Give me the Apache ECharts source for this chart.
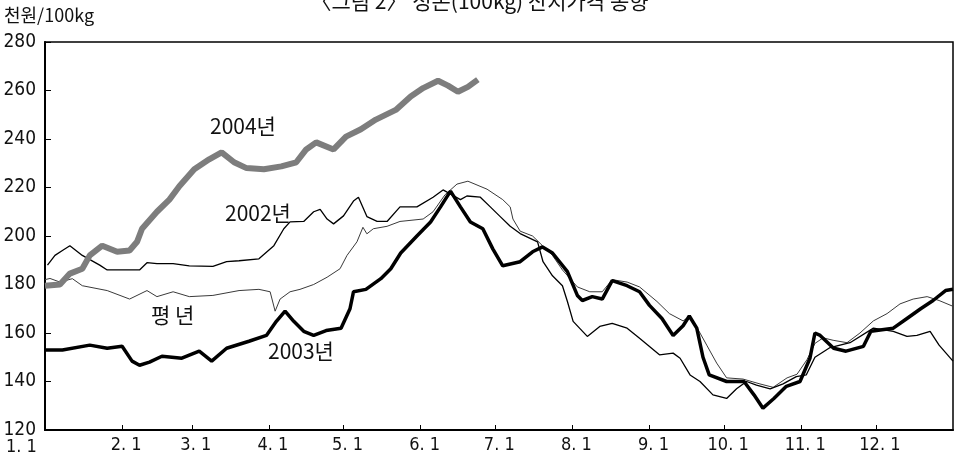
<!DOCTYPE html>
<html><head><meta charset="utf-8">
<script src="https://cdn.jsdelivr.net/npm/echarts@6/dist/echarts.min.js"></script>
<style>html,body{margin:0;padding:0;background:#fff}#c{width:959px;height:454px}</style>
</head><body><div id="c"></div>
<script>
// x: day of year (0 = Jan 1), y: 천원/100kg
const monthStarts = [0,31,59,90,120,151,181,212,243,273,304,334];
const monthLabels = ['1. 1','2. 1','3. 1','4. 1','5. 1','6. 1','7. 1','8. 1','9. 1','10. 1','11. 1','12. 1'];
const yTicks = [120,140,160,180,200,220,240,260,280];

const d2004 = [0,6,10,15,18,23,29,34,37,39,45,50,54,60,66,71,76,81,88,95,101,105,109,116,121,127,133,141,147,152,158,162,166,170,174];
const v2004 = [179.5,180,184.5,186.5,192,196,193.5,194,197.6,203,210,215,220.5,227.5,231.6,234.5,230.4,228,227.5,228.7,230.4,235.7,238.6,235.7,241,244,248,252,257.5,261,264,262,259.5,261.5,264.5];

const d2003 = [0,7,18,25,31,35,38,42,47,55,62,67,73,82,89,93,96.5,100,104,108,113,119,122.6,124,129,135,139,143,149.5,155,159,163,167,171,176,180,184,191,196,200,204,210,214,216,220,224,228,234,239,243,248,252.5,256.5,259,262,264.5,267,274,281,285,288.6,293,298,303.5,307.5,309.5,311.6,317,322,329,332,341,346.5,352,357,362,365];
const v2003 = [153,153,155,153.7,154.5,148.4,146.7,148,150.4,149.6,152.5,148.4,153.7,156.6,159,164.8,169,164.8,160.7,159,161,162,170,177,178,182.4,186.5,193,200,205.8,212,218.5,212,205.8,203,194.7,187.7,189.4,193.5,195.5,193,185.3,175.5,173.4,175,174,181.6,179.5,177,171.4,166,159,163,167,162,150,142.7,140,140,134.5,129,133,138,140,149.6,160,159,153.7,152.5,154.5,160.7,162,166,170,173.4,177.5,178];

const d2002 = [1,4,7,10,15,22,25,31,38,41,45,51.5,58,67.5,73,78,86,92,96,98.5,104,108,110.6,113.4,116,120,124,126,129.4,133.5,137.5,142.7,149.5,156,160,167,169.6,175,179,183,187,191,198,200.2,204,208,210,212.3,218,223,228,234,239,247,252.5,255.3,259.3,263.3,268.5,274,278,282,286,291.5,296.7,302,306,309.5,315.6,323.6,333,341,346.5,350.5,355.8,359.4,365];
const v2002 = [188,192,194,196,192,188,186,186,186,189,188.6,188.6,187.7,187.5,189.4,189.8,190.6,196,203,205.8,206,210,211,207,205,208.3,214.4,216,208,206,206,212,212,216,219,215,216.5,216,212,208,204,201,197.6,189.4,183.6,179.5,173,164.8,158.6,162.7,164,162,157.8,151,151.7,149.6,142.7,140,134.5,133,137,140,138.5,137,139,142,142.7,150,154,156,162,160.7,158.6,159,160.7,155,148.4];

const dAvg = [0,2,6,11,15,25,34,41,45,51.5,58,67.5,78,86,90.5,92.5,94.5,98.5,102.5,108,113.4,118.6,121.4,125.4,127.8,129.4,132,137.5,142.7,152,156,160.8,165.6,170,177.7,184,187,188.1,191,196,200,204,208,214,219,224,228,234,239,246,251,256.5,259.3,263.3,266,270,274,280.6,287.4,292.7,298.3,302.3,306.3,309.5,312.8,316.8,322.4,327.6,333,338.5,343.7,349,354.6,359.4,365];
const vAvg = [182,182.5,181,182.4,179.5,177.5,174,177.5,175,177,175,175.5,177.5,178,177,169,174,177,178,180,183,186.5,192,197.6,203.6,200.9,203,204,206,207,210,217,221.4,222.6,219.3,215,212,207,202,200,196,192,186,179,177,177,182,181,179,173,168,165,167,160,155,147.6,141.5,141,139,137.6,141.5,143,149,155.7,158,157,156,160,165,168,172,174,175,173.4,171];

const pairs = (d, v) => d.map((x, i) => [x, v[i]]);
const chart = echarts.init(document.getElementById('c'));
const FONT = '"Liberation Sans Narrow","DejaVu Sans Condensed","Liberation Sans",sans-serif';
const lab = (t, l, tp) => ({type:'text', left:l, top:tp, style:{text:t, font:'21px "Noto Sans CJK KR", sans-serif', fill:'#111'}});
chart.setOption({
  animation:false,
  backgroundColor:'#fff',
  grid:{left:45, right:6, top:42, bottom:22, show:true, borderColor:'#000', borderWidth:1.5},
  xAxis:{type:'value', min:0, max:365,
    axisLine:{show:true, lineStyle:{color:'#000', width:2}},
    splitLine:{show:false},
    axisTick:{show:true, inside:true, length:5, customValues:monthStarts, lineStyle:{color:'#000'}},
    axisLabel:{customValues:monthStarts.slice(1), margin:6, color:'#111', fontFamily:FONT, fontSize:18,
      formatter:(v)=>'{n|'+monthLabels[monthStarts.indexOf(v)]+'}',
      rich:{ n:{fontFamily:FONT, fontSize:18, color:'#111', lineHeight:18, padding:[0,0,0,8]} }}
  },
  yAxis:{type:'value', min:120, max:280, interval:20,
    axisLine:{show:true, lineStyle:{color:'#000', width:2}},
    splitLine:{show:false},
    axisTick:{show:true, inside:true, length:6, lineStyle:{color:'#000'}},
    axisLabel:{margin:9, color:'#111', fontFamily:FONT, fontSize:19, customValues:yTicks}
  },
  graphic:[
    {type:'text', left:'center', top:-9, style:{text:'〈그림 2〉 성돈(100kg) 산지가격 동향', font:'21px "Noto Sans CJK KR", sans-serif', fill:'#111'}},
    {type:'text', left:4, top:6, style:{text:'천원/100kg', font:'18px "Noto Sans CJK KR", sans-serif', fill:'#111'}},
    {type:'text', x:6, y:438, style:{text:monthLabels[0], font:'18px ' + FONT, fill:'#111', verticalAlign:'top', align:'left'}},
    lab('2004년', 210, 116),
    lab('2002년', 225, 203),
    lab('평 년', 151, 305),
    lab('2003년', 268, 341)
  ],
  series:[
    {name:'평년', type:'line', data:pairs(dAvg,vAvg), symbol:'none', lineStyle:{color:'#3a3a3a', width:1}, z:2},
    {name:'2002년', type:'line', data:pairs(d2002,v2002), symbol:'none', lineStyle:{color:'#000', width:1.3}, z:3},
    {name:'2003년', type:'line', data:pairs(d2003,v2003), symbol:'none', lineStyle:{color:'#000', width:3.5}, z:4},
    {name:'2004년', type:'line', data:pairs(d2004,v2004), symbol:'none', lineStyle:{color:'#7d7d7d', width:6}, z:5}
  ]
});
</script></body></html>
